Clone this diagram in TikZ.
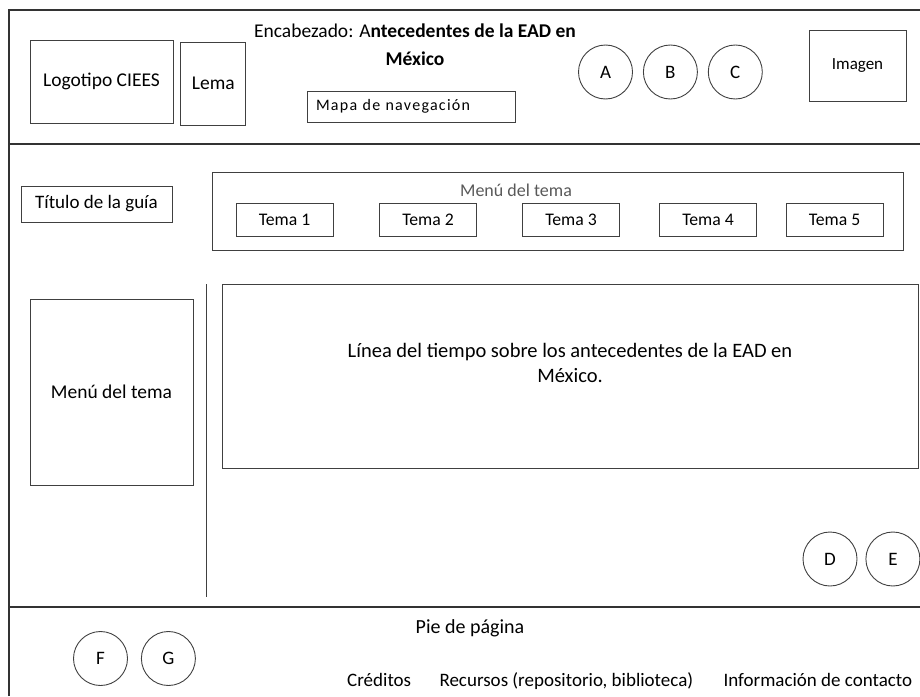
\documentclass[tikz,border=0pt]{standalone}
\usepackage{fontspec}
\setmainfont{Carlito}
\usetikzlibrary{positioning}

\begin{document}
\begin{tikzpicture}[x=1pt, y=-1pt, node distance={10pt},
    box/.style={draw=black!75, line width=0.9pt, inner sep=0pt, font=\fontsize{19.5}{22}\selectfont},
    btn/.style={draw=black!75, line width=0.9pt, circle, minimum size=54pt, inner sep=0pt, font=\fontsize{19}{22}\selectfont},
    txt/.style={inner sep=0pt, font=\fontsize{19}{25}\selectfont}]
\useasboundingbox (0,0) rectangle (920,696);
\draw[line width=1.2pt, black!80] (9,696) -- (9,10) -- (920,10);
\draw[line width=1.2pt, black!80] (9,144) -- (920,144);
\draw[line width=1.2pt, black!80] (9,607) -- (920,607);
\draw[line width=1pt, black!75] (206,284) -- (206,597);

    \node[box, minimum width=143pt, minimum height=83pt] (logo) at (101.5,81.5) {Logotipo CIEES};
    \node[box, minimum width=65pt, minimum height=83pt, right=7pt of logo, yshift=-2pt] (lema) {Lema};
    \node[txt, align=center, font=\fontsize{19.5}{28}\selectfont] (head) at (415,45) {Encabezado: A\textbf{ntecedentes de la EAD en}\\\textbf{México}};
    \node[box, text width=190pt, inner xsep=9pt, minimum height=31pt, align=left,
      font=\fontsize{16}{19}\selectfont\addfontfeature{LetterSpace=8}] (mapa) at (411,106.5) {Mapa de navegación};
    \node[btn] (A) at (605.5,72) {A};
    \node[btn, right=10pt of A] (B) {B};
    \node[btn, right=10pt of B] (C) {C};
    \node[box, minimum width=97pt, minimum height=71pt, font=\fontsize{17}{20}\selectfont] (img) at (857.5,65.5) {Imagen};

    \node[box, minimum width=151pt, minimum height=36pt, font=\fontsize{19}{22}\selectfont] (titulo) at (96.5,204) {Título de la guía};
    \node[box, minimum width=691pt, minimum height=78pt] (menu) at (557.5,211) {};
    \node[txt, font=\fontsize{18}{20}\selectfont, text=black!65] (menulbl) at (516,190) {Menú del tema};
\foreach \x/\n in {284.5/1, 428/2, 571/3, 708/4, 834.5/5}
    \node[box, minimum width=97pt, minimum height=33pt, font=\fontsize{17.7}{20}\selectfont] (tema\n) at (\x,219.5) {Tema \n};

    \node[box, minimum width=163pt, minimum height=186pt] (menuizq) at (111.5,392) {Menú del tema};
    \node[box, minimum width=696pt, minimum height=184pt] (linea) at (570,376) {};
    \node[txt, align=center, font=\fontsize{20.5}{25}\selectfont] (lineatxt) at (570,362.5) {Línea del tiempo sobre los antecedentes de la EAD en\\México.};
    \node[btn] (D) at (830,559) {D};
    \node[btn, right=8pt of D] (E) {E};

    \node[txt, font=\fontsize{20}{24}\selectfont] (pie) at (470,628) {Pie de página};
    \node[btn] (F) at (100.5,658.5) {F};
    \node[btn, right=13pt of F] (G) {G};
    \node[txt, anchor=base west] (cred) at (347,686) {Créditos};
    \node[txt, base right=28pt of cred] (recursos) {Recursos (repositorio, biblioteca)};
    \node[txt, base right=30pt of recursos] (info) {Información de contacto};
\end{tikzpicture}
\end{document}
